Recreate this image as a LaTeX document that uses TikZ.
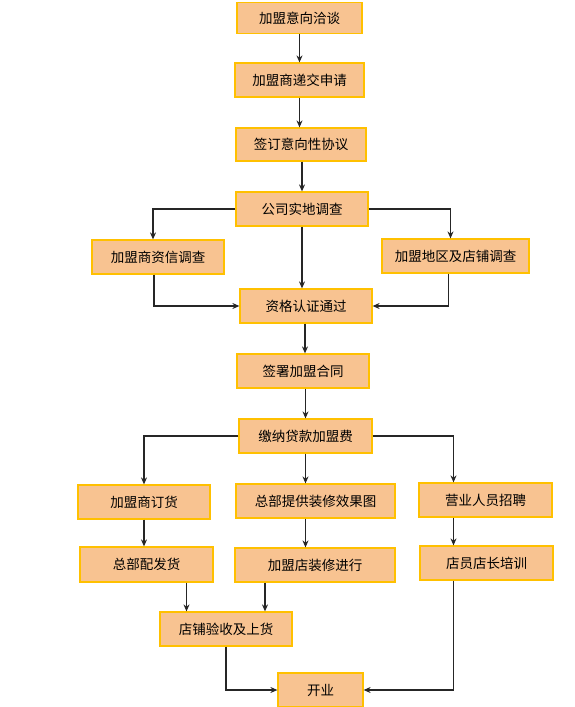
\documentclass[tikz,border=0pt]{standalone}
\usepackage{fontspec}
\setmainfont{Noto Sans CJK SC}
\usetikzlibrary{arrows.meta}
\definecolor{boxfill}{HTML}{F8C391}
\definecolor{boxline}{HTML}{FFC000}
\definecolor{arrline}{HTML}{262626}
\tikzset{
  stage/.style={draw=boxline,fill=boxfill,line width=1.2pt,inner sep=0pt,
    font=\fontsize{13.5}{16}\selectfont},
  flow/.style={draw=arrline,line width=1.3pt,-{Stealth[length=7pt,width=6pt]}}
}
\begin{document}
\begin{tikzpicture}[x=1pt,y=-1pt]
		\useasboundingbox (0,0) rectangle (574,707);
		% boxes: name/x/y/width/height/text
		\foreach \n/\x/\y/\w/\h/\t in {
		    intent/299.5/18/125/31/加盟意向洽谈,
		    apply/299.5/80/129/34/加盟商递交申请,
		    sign/301/144.5/130/33/签订意向性协议,
		    survey/302/209/132/34/公司实地调查,
		    credit/158/257/132/34/加盟商资信调查,
		    region/455.5/256/147/34/加盟地区及店铺调查,
		    pass/306/306/132/34/资格认证通过,
		    contract/303/371/132/34/签署加盟合同,
		    fee/305.5/436/133/34/缴纳贷款加盟费,
		    order/144/502/132/34/加盟商订货,
		    design/315.5/501/159/34/总部提供装修效果图,
		    hire/485.5/500/133/34/营业人员招聘,
		    ship/146.5/564.5/133/35/总部配发货,
		    decor/315/565/160/34/加盟店装修进行,
		    train/486.5/563/133/34/店员店长培训,
		    check/226/629/132/34/店铺验收及上货,
		    open/320.5/690/85/34/开业}{
		    \node[stage,minimum width=\w pt,minimum height=\h pt] (\n) at (\x,\y) {\t};
		}
		\draw[flow] (intent) -- (apply);
		\draw[flow] (apply.south) -- (apply.south |- sign.north);
		\draw[flow] (survey.north |- sign.south) -- (survey.north);
		\draw[flow] (survey.west) -| ([xshift=-5pt]credit.north);
		\draw[flow] (survey.east) -| ([xshift=-5pt]region.north);
		\draw[flow] (survey.south) -- (survey.south |- pass.north);
		\draw[flow] ([xshift=-4pt]credit.south) |- (pass.west);
		\draw[flow] ([xshift=-7pt]region.south) |- (pass.east);
		\draw[flow] ([xshift=-1pt]pass.south) -- ([xshift=-1pt]pass.south |- contract.north);
		\draw[flow] (fee.north |- contract.south) -- (fee.north);
		\draw[flow] (fee.west) -| (order.north);
		\draw[flow] (fee.east) -| ([xshift=-32pt]hire.north);
		\draw[flow] (fee.south) -- (fee.south |- design.north);
		\draw[flow] (order.south) -- (order.south |- ship.north);
		\draw[flow] ([xshift=-10pt]design.south) -- ([xshift=-10pt]design.south |- decor.north);
		\draw[flow] ([xshift=-32pt]hire.south) -- ([xshift=-32pt]hire.south |- train.north);
		\draw[flow] ([xshift=40pt]ship.south) -- ([xshift=40pt]ship.south |- check.north);
		\draw[flow] ([xshift=-50pt]decor.south) -- ([xshift=-50pt]decor.south |- check.north);
		\draw[flow] (check.south) |- (open.west);
		\draw[flow] ([xshift=-33pt]train.south) |- (open.east);
\end{tikzpicture}
\end{document}
